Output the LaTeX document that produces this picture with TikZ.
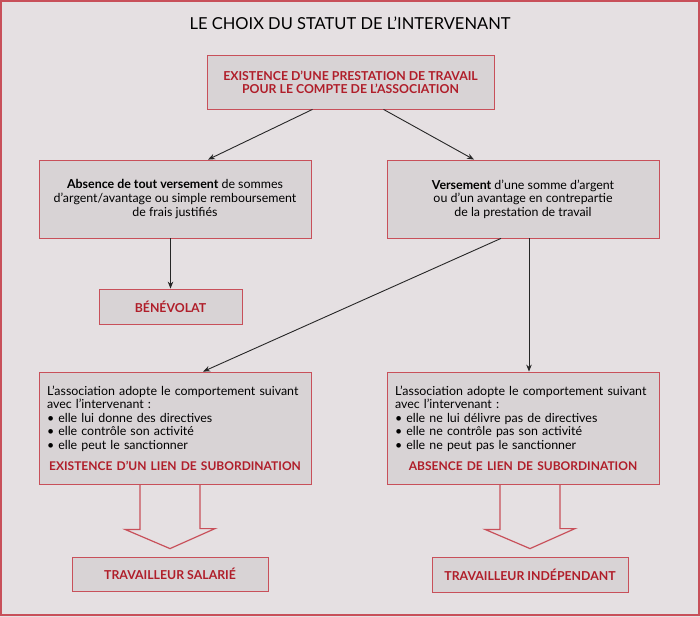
\documentclass[tikz,border=0pt]{standalone}
\usepackage{fontspec}
\setmainfont{Lato}
\usepackage{tikz}
\usetikzlibrary{positioning,calc,arrows.meta}
\definecolor{fondgris}{HTML}{E5E0E2}
\definecolor{boitegris}{HTML}{D8D3D5}
\definecolor{rougecadre}{HTML}{C8505A}
\definecolor{rougetexte}{HTML}{B01E2A}
\newcommand{\lienrouge}[1]{\makebox[\linewidth]{\color{rougetexte}\fontsize{12}{12.8}\selectfont\bfseries #1}}

\begin{document}
\begin{tikzpicture}[x=1pt, y=-1pt, every node/.style={font=\fontsize{12.4}{13.6}\selectfont},
    boite/.style={draw=rougecadre, fill=boitegris, line width=0.8pt, inner sep=0pt, align=center},
    titrerouge/.style={text=rougetexte, font=\fontsize{12.3}{12.8}\selectfont\bfseries},
    liste/.style={boite, text width=256, minimum height=112, align=left},
    fleche/.style={-{Stealth[length=7pt, width=5.5pt]}, line width=0.9pt, black!85},
    creux/.style={draw=rougecadre, line width=1.2pt, line join=miter}]
    \useasboundingbox (0,0) rectangle (700,617);
    \fill[fondgris] (0,0) rectangle (700,617);
    \draw[rougecadre, line width=2pt] (1,1) rectangle (699,615);

    \node[font=\fontsize{16.5}{18}\selectfont] (titre) at (350,23) {LE CHOIX DU STATUT DE L’INTERVENANT};
    \node[boite, titrerouge, minimum width=287, minimum height=54] (prestation) at (350.5,82)
        {EXISTENCE D’UNE PRESTATION DE TRAVAIL\\POUR LE COMPTE DE L’ASSOCIATION};

    \node[boite, minimum width=272, minimum height=78] (absence) at (175,199)
        {\textbf{Absence de tout versement} de sommes\\d’argent/avantage ou simple remboursement\\de frais justifiés};
    \node[boite, minimum width=272, minimum height=78] (versement) at (523,199)
        {\textbf{Versement} d’une somme d’argent\\ou d’un avantage en contrepartie\\de la prestation de travail};
    \node[boite, titrerouge, minimum width=143, minimum height=35] (benevolat) at (170.5,306.5) {BÉNÉVOLAT};

    \node[liste, inner xsep=8pt] (subordination) at (175,428)
        {L’association adopte le comportement suivant\\avec l’intervenant :\\
         \textbullet\ elle lui donne des directives\\\textbullet\ elle contrôle son activité\\
         \textbullet\ elle peut le sanctionner\par\vspace{7pt}
         \lienrouge{EXISTENCE D’UN LIEN DE SUBORDINATION}};
    \node[liste, inner xsep=8pt] (autonomie) at (523,428)
        {L’association adopte le comportement suivant\\avec l’intervenant :\\
         \textbullet\ elle ne lui délivre pas de directives\\\textbullet\ elle ne contrôle pas son activité\\
         \textbullet\ elle ne peut pas le sanctionner\par\vspace{7pt}
         \lienrouge{ABSENCE DE LIEN DE SUBORDINATION}};

    \node[boite, titrerouge, minimum width=196, minimum height=34] (salarie) at (170,574) {TRAVAILLEUR SALARIÉ};
    \node[boite, titrerouge, minimum width=196, minimum height=35] (independant) at (530,574.5) {TRAVAILLEUR INDÉPENDANT};

    % fleches
    \draw[fleche] ([xshift=-38pt]prestation.south) -- ([xshift=33pt]absence.north);
    \draw[fleche] ([xshift=33pt]prestation.south) -- ([xshift=-49pt]versement.north);
    \draw[fleche] (benevolat.north |- absence.south) -- (benevolat.north);
    \draw[fleche] ([xshift=-22pt]versement.south) -- ([xshift=28pt]subordination.north);
    \draw[fleche] ([xshift=6pt]versement.south) -- ([xshift=6pt]autonomie.north);

    \foreach \haut/\bas in {subordination/salarie, autonomie/independant} {
        \draw[creux] ($(\bas.north |- \haut.south)+(-30,0)$) -- ++(0,45) -- ++(-15,0)
            -- ($(\bas.north)+(0,-8)$) -- ++(45,-20) -- ++(-15,0) -- ($(\bas.north |- \haut.south)+(30,0)$);
    }
\end{tikzpicture}
\end{document}
